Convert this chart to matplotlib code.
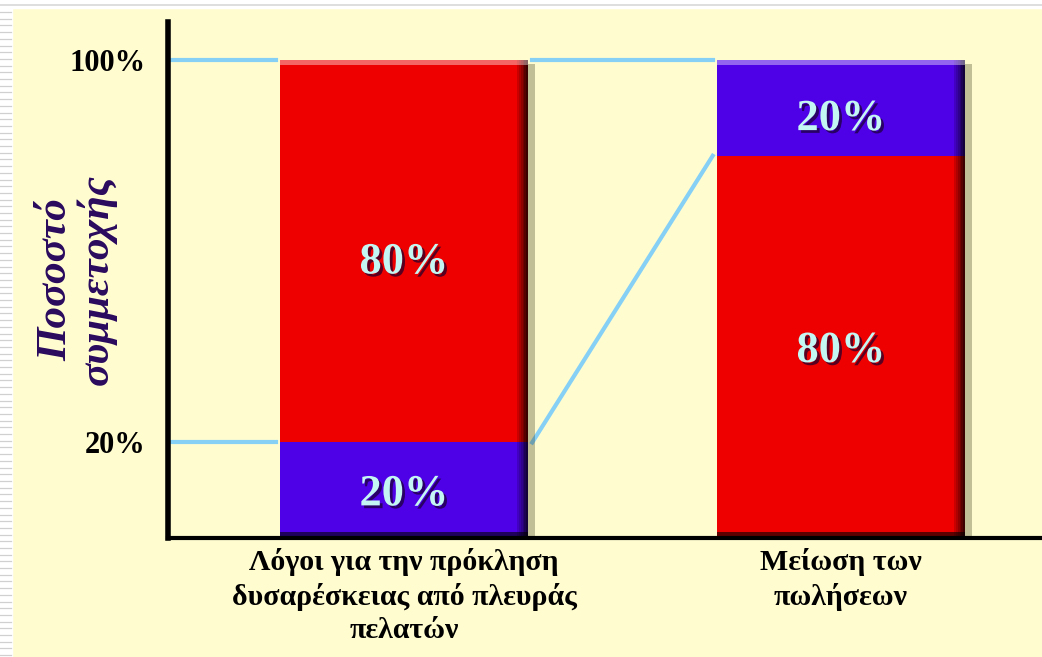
import numpy as np
import matplotlib
matplotlib.use("Agg")
import matplotlib.pyplot as plt
import matplotlib.patheffects as pe
from matplotlib.patches import Rectangle
from matplotlib.lines import Line2D

# data
categories = ["Λόγοι για την πρόκληση\nδυσαρέσκειας από πλευράς\nπελατών",
              "Μείωση των\nπωλήσεων"]
lower = [20, 80]          # bottom segment of each bar (%)
upper = [80, 20]          # top segment of each bar (%)
lower_labels = ["20%", "80%"]
upper_labels = ["80%", "20%"]
ytick_vals = [20, 100]
ytick_labels = ["20%", "100%"]

RED = "#EE0000"
BLUE = "#4E00E6"
lower_colors = [BLUE, RED]
upper_colors = [RED, BLUE]
BG = "#FFFDD0"
LINE = "#86D0F6"
TXT = "#C4F6F4"

plt.rcParams["font.family"] = ["Liberation Serif", "DejaVu Serif"]

fig = plt.figure(figsize=(10.42, 6.57), dpi=100, facecolor=BG)
ax = fig.add_axes([168 / 1042, 1 - 538 / 657, 1 - 168 / 1042, (538 - 22) / 657])
ax.set_facecolor(BG)

x = np.arange(len(categories))
w = 0.567
tot = np.array(lower) + np.array(upper)

# soft drop shadow behind each stacked bar
ax.bar(x, tot, width=w, color="none", zorder=2,
       path_effects=[pe.SimplePatchShadow(offset=(5, -3), shadow_rgbFace="#303010", alpha=0.3)])
ax.bar(x, lower, width=w, color=lower_colors, zorder=3)
ax.bar(x, upper, width=w, bottom=lower, color=upper_colors, zorder=3)

# bevel: dark right edge, light top edge
dw = 0.004
for k in range(6):
    ax.bar(x + w / 2 - dw * (k + 0.5), tot, width=dw, color="black",
           alpha=0.75 - 0.12 * k, lw=0, zorder=4)
ax.bar(x, 1.0, width=w, bottom=tot - 1.0, color="white", alpha=0.4, lw=0, zorder=4)
ax.bar(x, 1.2, width=w, bottom=0, color="black", alpha=0.6, lw=0, zorder=4)

fx = [pe.SimplePatchShadow(offset=(2, -2), shadow_rgbFace="#1a0030", alpha=0.7), pe.Normal()]
for i in range(len(categories)):
    ax.annotate(lower_labels[i], (x[i], lower[i] / 2), xytext=(0, -3),
                textcoords="offset points", ha="center", va="center",
                fontsize=32, fontweight="bold", color=TXT, zorder=5, path_effects=fx)
    ax.annotate(upper_labels[i], (x[i], lower[i] + upper[i] / 2), xytext=(0, -8),
                textcoords="offset points", ha="center", va="center",
                fontsize=32, fontweight="bold", color=TXT, zorder=5, path_effects=fx)

# connecting lines (Pareto link)
x0 = -0.54
gap = 0.01
ax.plot([x0, x[0] - w / 2 - gap], [100, 100], color=LINE, lw=3, zorder=1)
ax.plot([x0, x[0] - w / 2 - gap], [lower[0], lower[0]], color=LINE, lw=3, zorder=1)
ax.plot([x[0] + w / 2 + gap, x[1] - w / 2 - gap], [100, 100], color=LINE, lw=3, zorder=1)
ax.plot([x[0] + w / 2 + gap, x[1] - w / 2 - gap], [lower[0], lower[1]], color=LINE, lw=3, zorder=1)

ax.set_xlim(x0, 1.46)
ax.set_ylim(0, 108)
ax.set_yticks(ytick_vals)
ax.set_yticklabels(ytick_labels, fontsize=22, fontweight="bold")
ax.set_xticks(x)
ax.set_xticklabels(categories, fontsize=21.5, fontweight="bold", linespacing=1.32)
ax.tick_params(axis="y", length=0, pad=16)
ax.tick_params(axis="x", length=0, pad=7)

for s in ["top", "right"]:
    ax.spines[s].set_visible(False)
ax.spines["left"].set_linewidth(4)
ax.spines["bottom"].set_linewidth(3)
ax.spines["bottom"].set_zorder(6)

fig.text(77 / 1042, 1 - 280 / 657, "Ποσοστό\nσυμμετοχής", rotation=90,
         ha="center", va="center", multialignment="center",
         fontsize=31, fontweight="bold", style="italic", color="#2A0A5E",
         linespacing=1.05)

# slide frame: white ruled strip left and top
fig.patches.append(Rectangle((0, 0), 12 / 1042, 1, transform=fig.transFigure,
                             color="white", zorder=10))
fig.patches.append(Rectangle((0, 1 - 8 / 657), 1, 8 / 657, transform=fig.transFigure,
                             color="white", zorder=10))
fig.add_artist(Line2D([0, 1], [1 - 4.5 / 657] * 2, color="#d8d8d8", lw=1.2, zorder=11))
for yy in np.arange(12, 657, 6.7):
    fig.add_artist(Line2D([0, 11 / 1042], [1 - yy / 657] * 2, color="#d0d0d0", lw=0.9, zorder=11))

fig.savefig("out.png", dpi=100, facecolor=BG)
